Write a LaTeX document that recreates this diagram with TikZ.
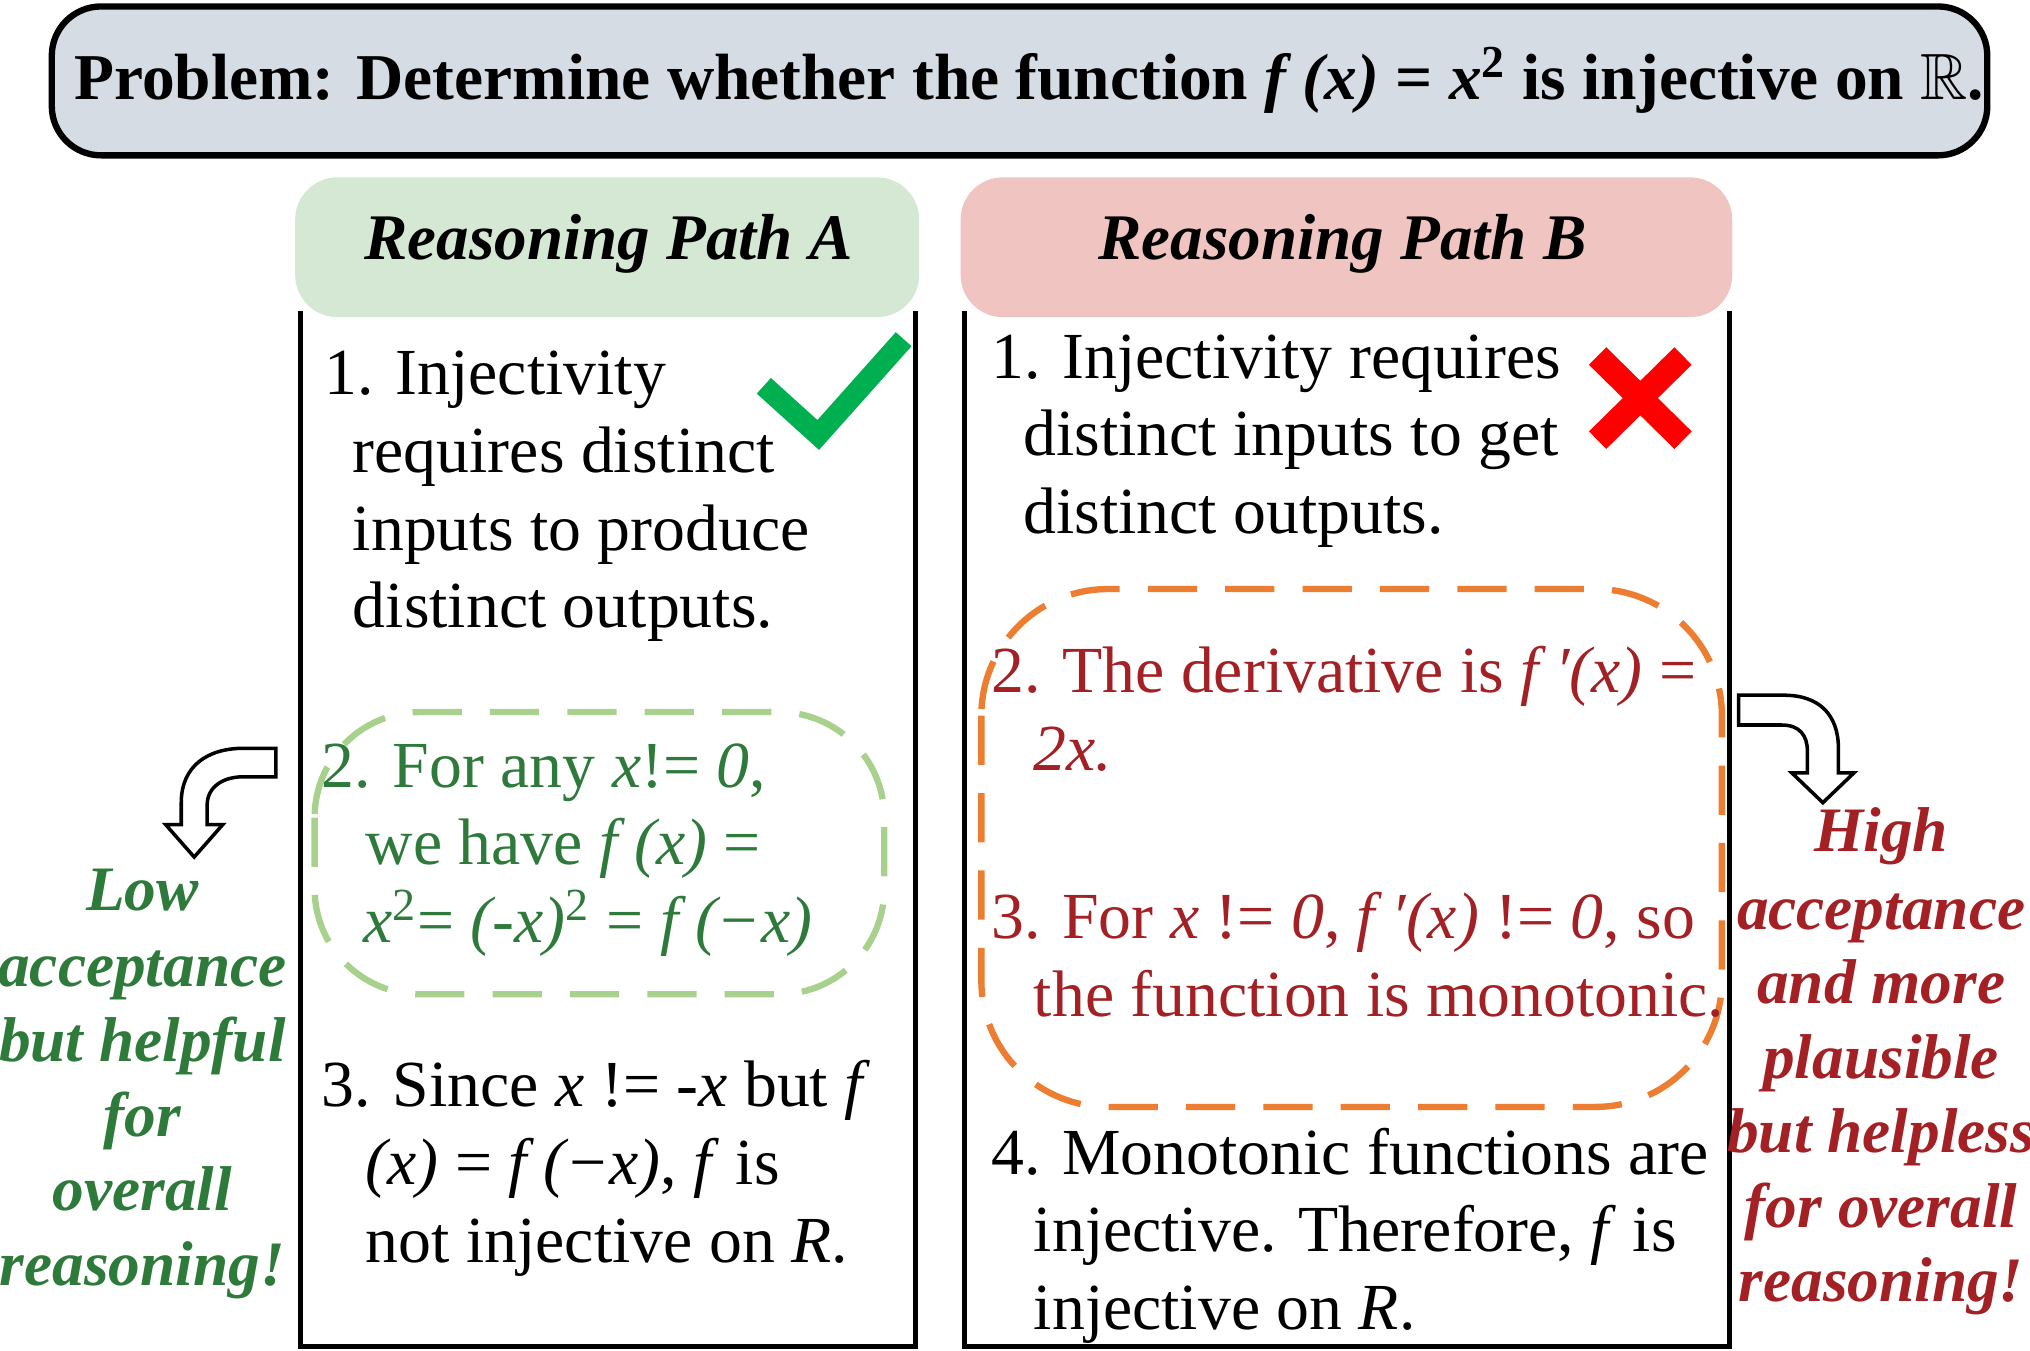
\documentclass[tikz,border=0pt]{standalone}
\usepackage{fontspec}
\usepackage{amssymb}
\setmainfont{Liberation Serif}
\begin{document}
\begin{tikzpicture}[x=0.012946cm,y=-0.012946cm,
  t/.style={anchor=base west,inner sep=0,font=\fontsize{18.7}{22}\selectfont},
  s/.style={anchor=base,inner sep=0,font=\fontsize{18}{22}\selectfont\bfseries\itshape},
  hd/.style={inner sep=0,font=\fontsize{18.5}{22}\selectfont\bfseries\itshape}]
\definecolor{pbg}{HTML}{D6DCE4}
\definecolor{ga}{HTML}{D5E8D4}
\definecolor{rb}{HTML}{F0C4C0}
\definecolor{gt}{HTML}{2E7A3A}
\definecolor{rt}{HTML}{A32024}
\definecolor{gd}{HTML}{A9D18E}
\definecolor{od}{HTML}{ED7D31}
\definecolor{ck}{HTML}{00B050}
\useasboundingbox (0,0) rectangle (1568,1043);
% problem
\draw[line width=1.8pt,rounded corners=14pt,fill=pbg] (40,5) rectangle (1535,120);
\node[inner sep=0,font=\fontsize{18.6}{22}\selectfont\bfseries] (prob) at (795,62) {Problem: Determine whether the function \textit{f (x)} = \textit{x}\textsuperscript{2} is injective on $\mathbb{R}$.};
% headers
\fill[ga,rounded corners=12pt] (228,137) rectangle (710,245);
\node[hd] (ha) at (470,188) {Reasoning Path A};
\fill[rb,rounded corners=12pt] (742,137) rectangle (1338,245);
\node[hd] (hb) at (1037,188) {Reasoning Path B};
% boxes
\draw[line width=1.6pt] (232,240) -- (232,1040) -- (707,1040) -- (707,240);
\draw[line width=1.6pt] (745,240) -- (745,1040) -- (1336,1040) -- (1336,240);
% dashed
\draw[gd,line width=1.8pt,dash pattern=on 14pt off 8pt,rounded corners=30pt] (243,550) rectangle (683,768);
\draw[od,line width=1.8pt,dash pattern=on 14pt off 8pt,rounded corners=36pt] (758,455) rectangle (1330,855);
% check & cross
\draw[ck,line width=6pt] (590,298) -- (632,336) -- (698,262);
\draw[red,line width=7pt] (1234,275) -- (1300,340) (1300,275) -- (1234,340);
% arrows
\draw[line width=1pt,fill=white] (213,578) -- (188,578) .. controls (160,578) and (140,592) .. (140,620) -- (140,637) -- (128,637) -- (150,662) -- (172,637) -- (160,637) -- (160,622) .. controls (160,608) and (172,600) .. (188,600) -- (213,600) -- cycle;
\draw[line width=1pt,fill=white] (1343,537) -- (1378,537) .. controls (1405,537) and (1420,552) .. (1420,578) -- (1420,597) -- (1432,597) -- (1408,620) -- (1384,597) -- (1396,597) -- (1396,580) .. controls (1396,568) and (1390,560) .. (1376,560) -- (1343,560) -- cycle;
% path A
\node[t] (a1) at (250,305) {1. Injectivity};
\node[t] (a2) at (272,365) {requires distinct};
\node[t] (a3) at (272,425) {inputs to produce};
\node[t] (a4) at (272,485) {distinct outputs.};
\node[t,gt] (a5) at (248,608) {2. For any \textit{x}!= \textit{0},};
\node[t,gt] (a6) at (282,668) {we have \textit{f (x)} =};
\node[t,gt] (a7) at (280,728) {\textit{x}\textsuperscript{2}= \textit{(-x)}\textsuperscript{2} = \textit{f (−x)}};
\node[t] (a8) at (248,855) {3. Since \textit{x} != \textit{-x} but \textit{f}};
\node[t] (a9) at (282,915) {\textit{(x)} = \textit{f (−x)}, \textit{f} is};
\node[t] (a10) at (282,975) {not injective on \textit{R}.};
% path B
\node[t] (b1) at (765,292) {1. Injectivity requires};
\node[t] (b2) at (790,352) {distinct inputs to get};
\node[t] (b3) at (790,412) {distinct outputs.};
\node[t,rt] (b4) at (765,535) {2. The derivative is \textit{f ′(x)} =};
\node[t,rt] (b5) at (798,595) {\textit{2x.}};
\node[t,rt] (b6) at (765,725) {3. For \textit{x} != \textit{0}, \textit{f ′(x)} != \textit{0}, so};
\node[t,rt] (b7) at (798,785) {the function is monotonic.};
\node[t] (b8) at (765,907) {4. Monotonic functions are};
\node[t] (b9) at (798,967) {injective. Therefore, \textit{f} is};
\node[t] (b10) at (798,1027) {injective on \textit{R}.};
% side labels
\node[s,gt] (l1) at (110,703) {Low};
\node[s,gt] (l2) at (110,762) {acceptance};
\node[s,gt] (l3) at (110,820) {but helpful};
\node[s,gt] (l4) at (110,878) {for};
\node[s,gt] (l5) at (110,935) {overall};
\node[s,gt] (l6) at (110,993) {reasoning!};
\node[s,rt] (r1) at (1453,658) {High};
\node[s,rt] (r2) at (1453,718) {acceptance};
\node[s,rt] (r3) at (1453,775) {and more};
\node[s,rt] (r4) at (1453,833) {plausible};
\node[s,rt] (r5) at (1453,890) {but helpless};
\node[s,rt] (r6) at (1453,948) {for overall};
\node[s,rt] (r7) at (1453,1005) {reasoning!};
\end{tikzpicture}
\end{document}
